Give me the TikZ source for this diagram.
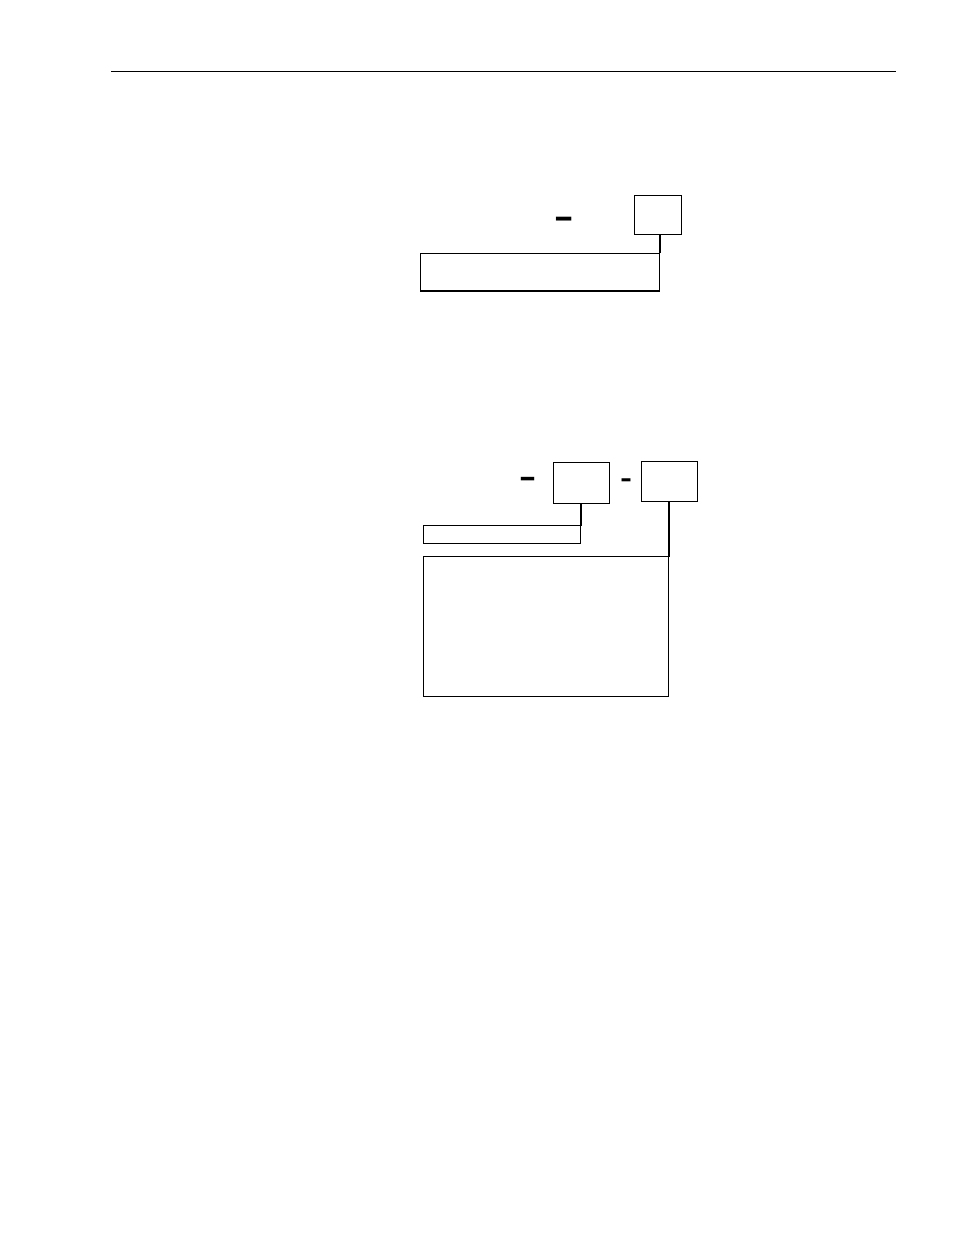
\documentclass[tikz,border=0pt]{standalone}
\usepackage{fontspec}
\setmainfont{Liberation Sans}

\begin{document}
\begin{tikzpicture}
[x=1pt,y=-1pt,%
  boxDecorate/.style={shape=rectangle,inner sep=0pt,draw,line width=1.2pt},%
  dashDecorate/.style={inner sep=0pt,font=\bfseries},%
  lineDecorate/.style={-,line width=1.2pt,line cap=rect}]
\useasboundingbox (0,0) rectangle (954,1235);
%% page rule
\coordinate (ruleL) at (111,71);
\coordinate (ruleR) at (896,71);
\draw[line width=0.9pt] (ruleL) -- (ruleR);
%% boxes
\foreach \nodename/\x/\y/\w/\h in {
  code/658/214.8/47.4/39, desc/539.8/272.2/239/37.7,
  boxA/581.5/482.8/56.4/41, boxB/669.5/481.3/56.4/40,
  narrow/501.8/534.5/157/17.6, large/545.8/626.7/245/140}
{
  \node (\nodename) at (\x,\y) [boxDecorate,minimum width=\w pt,minimum height=\h pt] {};
}
%% dashes
\node (dashA) at (564.5,223) [dashDecorate] {\fontsize{31}{31}\selectfont\scalebox{1}[1.25]{–}};
\node (dashB) at (528,483) [dashDecorate] {\fontsize{27}{27}\selectfont\scalebox{1}[1.3]{–}};
\node (dashC) at (626,484) [dashDecorate] {\fontsize{18}{18}\selectfont\scalebox{1}[1.7]{–}};
%% connectors
\path
  (desc.north east) edge[lineDecorate] (desc.north east |- code.south)
  (narrow.north east) edge[lineDecorate] (narrow.north east |- boxA.south)
  (large.north east) edge[lineDecorate] (large.north east |- boxB.south);
\end{tikzpicture}
\end{document}
